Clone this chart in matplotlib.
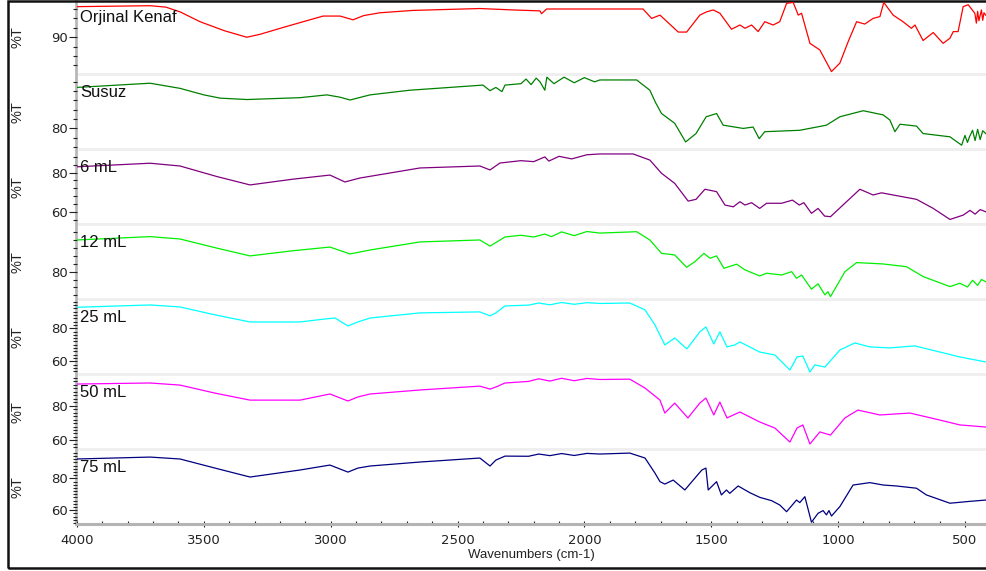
import matplotlib
matplotlib.use("Agg")
import matplotlib.pyplot as plt
from matplotlib.ticker import MultipleLocator, FixedLocator
from matplotlib.patches import Rectangle
from matplotlib.lines import Line2D

# ---- data (wavenumber cm-1, %T) ----
wn_kenaf = [4000, 3712, 3650, 3594, 3515, 3420, 3331, 3280, 3180, 3030, 2963, 2912, 2870,
            2806, 2676, 2412, 2282, 2175, 2169, 2149, 1939, 1769, 1735, 1702, 1660, 1630,
            1597, 1545, 1518, 1492, 1466, 1420, 1387, 1367, 1341, 1315, 1289, 1256, 1230,
            1203, 1177, 1157, 1144, 1111, 1072, 1026, 993, 960, 927, 895, 862, 835, 820,
            783, 744, 711, 697, 665, 625, 586, 559, 546, 527, 507, 487, 461, 455, 450,
            445, 435, 430, 425, 418]
t_kenaf = [96.5, 96.7, 96.4, 95.4, 93.3, 91.4, 90.0, 90.6, 92.2, 94.5, 94.5, 93.7, 94.6,
           95.2, 95.7, 96.1, 95.8, 95.6, 95.0, 96.0, 96.0, 96.0, 94.0, 94.7, 92.6, 91.1,
           91.1, 94.7, 95.4, 95.8, 95.1, 91.7, 92.6, 91.9, 92.6, 91.2, 93.3, 92.6, 93.3,
           97.2, 97.4, 94.7, 95.1, 88.7, 87.3, 82.7, 84.5, 89.1, 93.3, 92.8, 94.0, 94.4,
           97.4, 94.7, 93.3, 91.9, 92.6, 89.3, 91.0, 88.7, 89.8, 91.2, 91.2, 96.5, 96.9,
           95.1, 93.0, 95.5, 93.5, 95.8, 93.6, 95.2, 94.7]

wn_susuz = [4000, 3712, 3594, 3500, 3436, 3330, 3121, 3015, 2963, 2924, 2845, 2688, 2530,
            2400, 2372, 2349, 2325, 2313, 2250, 2230, 2210, 2190, 2175, 2156, 2148, 2120,
            2080, 2040, 2000, 1960, 1939, 1794, 1742, 1720, 1696, 1644, 1601, 1560, 1520,
            1479, 1453, 1374, 1335, 1311, 1289, 1151, 1046, 993, 901, 822, 796, 776, 756,
            691, 665, 559, 513, 500, 490, 482, 470, 460, 450, 440, 430, 418]
t_susuz = [88.8, 89.7, 88.6, 87.2, 86.5, 86.2, 86.6, 87.2, 86.7, 86.1, 87.2, 88.2, 88.8,
           89.3, 88.1, 88.8, 87.9, 89.3, 89.6, 90.6, 89.4, 90.8, 90.0, 88.2, 91.0, 89.6,
           91.0, 89.8, 90.9, 90.0, 90.4, 90.4, 88.2, 85.6, 83.2, 81.1, 77.1, 78.9, 82.5,
           83.2, 80.7, 80.0, 80.3, 77.8, 79.3, 79.6, 80.7, 82.5, 83.8, 82.9, 81.8, 79.3,
           80.9, 80.5, 78.9, 78.2, 76.4, 78.5, 77.0, 78.2, 79.6, 77.4, 79.8, 77.6, 79.5,
           78.9]

wn_6ml = [4000, 3712, 3594, 3450, 3318, 3150, 3003, 2944, 2885, 2648, 2412, 2372, 2333,
          2250, 2200, 2156, 2140, 2100, 2050, 1990, 1939, 1808, 1742, 1696, 1644, 1591,
          1560, 1525, 1479, 1446, 1413, 1387, 1367, 1341, 1309, 1282, 1223, 1180, 1153,
          1135, 1105, 1079, 1053, 1030, 960, 914, 862, 829, 691, 625, 559, 507, 480, 460,
          440, 418]
t_6ml = [82.9, 84.7, 83.3, 78.0, 73.7, 76.6, 78.7, 75.2, 77.2, 82.3, 83.3, 81.3, 84.8,
         86.0, 85.5, 87.9, 85.8, 88.2, 86.9, 89.0, 89.4, 89.4, 86.3, 79.6, 74.5, 65.5,
         66.4, 71.5, 70.3, 63.5, 62.6, 65.2, 63.5, 64.7, 61.8, 64.4, 64.4, 66.0, 63.5,
         64.7, 59.3, 61.8, 57.9, 57.6, 66.0, 71.5, 68.6, 69.7, 66.4, 61.8, 56.2, 58.4,
         60.8, 58.9, 61.2, 60.1]

wn_12ml = [4000, 3712, 3594, 3450, 3318, 3150, 3003, 2924, 2845, 2648, 2412, 2372, 2313,
           2250, 2200, 2156, 2130, 2090, 2040, 1990, 1939, 1794, 1742, 1696, 1644, 1597,
           1564, 1529, 1505, 1479, 1450, 1400, 1367, 1309, 1282, 1223, 1183, 1164, 1144,
           1105, 1079, 1052, 1040, 1030, 973, 927, 822, 730, 665, 559, 520, 490, 470, 450,
           435, 418]
t_12ml = [96.1, 97.8, 96.6, 92.0, 88.0, 90.6, 92.5, 89.0, 91.0, 95.1, 96.1, 93.0, 97.6,
          98.5, 97.6, 99.1, 97.8, 100.2, 98.3, 100.4, 99.6, 100.3, 96.1, 89.3, 88.5, 82.2,
          85.1, 89.3, 86.8, 88.0, 81.7, 83.8, 80.9, 77.8, 79.2, 78.3, 80.0, 76.6, 78.3,
          71.1, 73.8, 68.2, 69.8, 67.3, 80.0, 84.6, 83.9, 82.5, 77.5, 72.4, 74.1, 72.2,
          75.6, 73.0, 76.0, 74.9]

wn_25ml = [4000, 3712, 3594, 3456, 3318, 3121, 3023, 2983, 2932, 2893, 2845, 2648, 2412,
           2372, 2349, 2313, 2220, 2180, 2136, 2090, 2040, 1990, 1939, 1821, 1761, 1722,
           1683, 1644, 1596, 1545, 1521, 1490, 1466, 1438, 1407, 1387, 1309, 1249, 1190,
           1162, 1139, 1111, 1092, 1052, 993, 934, 875, 796, 697, 599, 520, 418]
t_25ml = [92.7, 94.1, 92.9, 88.1, 83.8, 83.8, 85.6, 86.2, 81.4, 83.8, 86.2, 89.3, 89.9,
          87.5, 89.3, 93.5, 94.0, 95.3, 94.2, 95.6, 94.5, 95.5, 95.0, 95.3, 91.1, 82.0,
          69.9, 74.1, 67.5, 77.8, 80.8, 70.5, 77.8, 68.7, 69.9, 71.7, 65.6, 63.8, 54.7,
          62.6, 63.2, 53.5, 57.8, 56.5, 66.8, 71.1, 68.7, 68.1, 69.3, 65.6, 62.6, 59.6]

wn_50ml = [4000, 3712, 3594, 3456, 3318, 3121, 3003, 2932, 2893, 2845, 2648, 2412, 2372,
           2349, 2313, 2220, 2180, 2136, 2090, 2040, 1990, 1939, 1821, 1761, 1702, 1683,
           1644, 1592, 1545, 1521, 1490, 1466, 1438, 1387, 1309, 1249, 1190, 1162, 1139,
           1111, 1072, 1030, 973, 922, 835, 717, 599, 520, 418]
t_50ml = [92.3, 92.9, 91.7, 87.1, 83.1, 83.1, 86.6, 82.6, 84.9, 86.6, 88.9, 91.1, 89.4,
          90.6, 92.9, 93.8, 95.3, 94.0, 95.6, 94.2, 95.5, 94.9, 95.1, 90.0, 83.1, 75.7,
          81.4, 72.9, 81.4, 84.3, 74.6, 82.0, 72.9, 76.3, 70.6, 67.1, 59.1, 67.1, 68.9,
          58.0, 64.9, 63.1, 72.9, 77.4, 74.6, 75.7, 71.7, 68.9, 67.7]

wn_75ml = [4000, 3712, 3594, 3456, 3318, 3121, 3003, 2932, 2893, 2845, 2648, 2412, 2372,
           2349, 2313, 2220, 2180, 2136, 2090, 2040, 1990, 1939, 1821, 1761, 1722, 1702,
           1683, 1650, 1604, 1571, 1537, 1521, 1512, 1479, 1460, 1440, 1427, 1394, 1348,
           1309, 1262, 1230, 1203, 1164, 1151, 1131, 1105, 1079, 1059, 1046, 1036, 1026,
           993, 941, 914, 875, 822, 770, 691, 652, 559, 493, 418]
t_75ml = [92.1, 93.3, 92.1, 86.4, 80.8, 85.2, 88.3, 83.9, 86.4, 87.7, 90.2, 92.7, 87.7,
          91.4, 93.9, 93.8, 95.2, 94.2, 95.5, 94.3, 95.6, 95.2, 95.8, 92.7, 83.3, 77.9,
          76.4, 78.9, 72.7, 78.9, 85.2, 86.4, 72.7, 77.9, 69.6, 72.7, 70.6, 75.2, 71.0,
          68.1, 66.0, 63.3, 59.1, 66.4, 64.8, 68.5, 52.5, 58.1, 59.8, 57.1, 59.8, 56.4,
          62.3, 75.8, 76.4, 77.3, 75.8, 75.2, 73.8, 69.6, 64.4, 65.4, 66.4]

names = ["Orjinal Kenaf", "Susuz", "6 mL", "12 mL", "25 mL", "50 mL", "75 mL"]
xs = [wn_kenaf, wn_susuz, wn_6ml, wn_12ml, wn_25ml, wn_50ml, wn_75ml]
ys = [t_kenaf, t_susuz, t_6ml, t_12ml, t_25ml, t_50ml, t_75ml]
colors = ["#ff0000", "#008000", "#800080", "#00f000", "#00ffff", "#ff00ff", "#000080"]

# per panel: y-limits, labelled ticks, minor step
ylims = [(82.4, 97.7), (75.8, 91.25), (54.4, 90.9), (66.6, 103.2),
         (52.9, 96.5), (55.7, 96.9), (51.4, 97.1)]
major = [[90], [80], [60, 80], [80], [60, 80], [60, 80], [60, 80]]
minor = [2, 2, 4, 4, 2, 2, 2]

W, H = 986, 571
fig = plt.figure(figsize=(W / 100, H / 100), dpi=100)
fig.patch.set_facecolor("white")

left = 77
tops = [1, 76, 151, 226, 301, 376, 451]
bots = [73, 148, 223, 298, 373, 448, 524]

# light grey separators between panels
for i in range(6):
    fig.patches.append(Rectangle((left / W, 1 - tops[i + 1] / H), (W - left) / W,
                                 (tops[i + 1] - bots[i]) / H, transform=fig.transFigure,
                                 facecolor="#efefef", edgecolor="none", zorder=-2))

# outer frame
fig.patches.append(Rectangle((7.5 / W, 1 - 568 / H), 1.2, (568 - 0.5) / H,
                             transform=fig.transFigure, fill=False,
                             edgecolor="#111111", linewidth=1.8, zorder=-1))

# grey left axis bar
fig.lines.append(Line2D([75.6 / W, 75.6 / W], [1 - 1 / H, 1 - 524 / H],
                        transform=fig.transFigure, color="#b4b4b4",
                        linewidth=1.9, zorder=-1))

for i in range(7):
    ax = fig.add_axes([left / W, 1 - bots[i] / H, (W - left) / W, (bots[i] - tops[i]) / H])
    ax.patch.set_alpha(0)
    ax.plot(xs[i], ys[i], color=colors[i], linewidth=0.9)
    ax.set_xlim(4000, 417)
    ax.set_ylim(*ylims[i])
    for s in ["top", "right", "left", "bottom"]:
        ax.spines[s].set_visible(False)
    ax.yaxis.set_major_locator(FixedLocator(major[i]))
    ax.yaxis.set_minor_locator(MultipleLocator(minor[i]))
    ax.tick_params(axis="y", which="major", length=5.5, width=0.8, pad=1,
                   labelsize=9.5, colors="#222222")
    ax.tick_params(axis="y", which="minor", length=3, width=0.8, colors="#222222")
    ax.xaxis.set_major_locator(MultipleLocator(500))
    ax.xaxis.set_minor_locator(MultipleLocator(100))
    if i < 6:
        ax.tick_params(axis="x", which="both", bottom=False, labelbottom=False)
    else:
        ax.spines["bottom"].set_visible(True)
        ax.spines["bottom"].set_color("#b4b4b4")
        ax.spines["bottom"].set_linewidth(2.2)
        ax.tick_params(axis="x", which="major", direction="inout", length=5, width=0.8,
                       labelsize=9.5, colors="#222222", pad=5)
        ax.tick_params(axis="x", which="minor", direction="in", length=2.5, width=0.8,
                       colors="#222222")
    fig.text(80 / W, 1 - (tops[i] + 21) / H, names[i], fontsize=12,
             family="Liberation Sans", color="#111111", va="baseline", ha="left",
             zorder=5)
    fig.text(17 / W, 1 - (tops[i] + bots[i]) / 2 / H, "%T", rotation=90, fontsize=10.5,
             family="Liberation Sans", color="#222222", ha="center", va="center")

fig.text(531 / W, 1 - 555 / H, "Wavenumbers (cm-1)", fontsize=9.5,
         family="Liberation Sans", color="#222222", ha="center", va="center")

fig.savefig("out.png", dpi=100)
